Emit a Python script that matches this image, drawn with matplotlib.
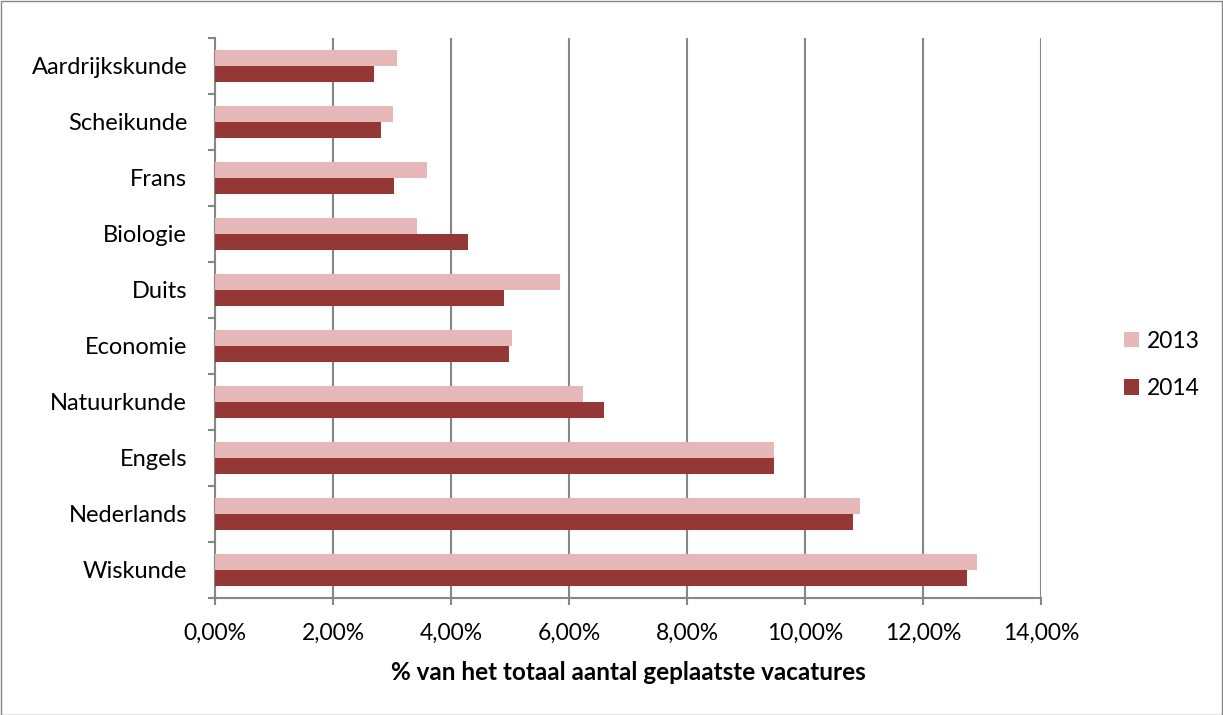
import matplotlib.pyplot as plt
import numpy as np
from matplotlib.ticker import FuncFormatter, FixedLocator
from matplotlib.patches import Rectangle

plt.rcParams['font.family'] = ['Lato', 'DejaVu Sans']

# categories from bottom to top
vakken = ['Wiskunde', 'Nederlands', 'Engels', 'Natuurkunde', 'Economie',
          'Duits', 'Biologie', 'Frans', 'Scheikunde', 'Aardrijkskunde']
pct_2013 = [12.92, 10.93, 9.48, 6.24, 5.04, 5.84, 3.42, 3.60, 3.01, 3.08]
pct_2014 = [12.74, 10.82, 9.47, 6.60, 4.99, 4.90, 4.29, 3.04, 2.82, 2.70]

c2013 = '#E6B9B8'
c2014 = '#953735'
grijs = '#868686'

fig = plt.figure(figsize=(12.23, 7.15), dpi=100)
ax = fig.add_axes([215 / 1223, 1 - 598 / 715, (1041 - 215) / 1223, (598 - 38) / 715])

y = np.arange(len(vakken))
h = 0.285
ax.barh(y + h / 2, pct_2013, height=h, color=c2013, label='2013', zorder=3)
ax.barh(y - h / 2, pct_2014, height=h, color=c2014, label='2014', zorder=3)

ax.set_xlim(0, 14)
ax.set_ylim(-0.5, len(vakken) - 0.5)
ax.set_xticks(np.arange(0, 15, 2))
ax.xaxis.set_major_formatter(FuncFormatter(lambda v, p: f'{v:.2f}%'.replace('.', ',')))
ax.grid(axis='x', color=grijs, linewidth=1.5, zorder=0)

ax.set_yticks(y)
ax.set_yticklabels(vakken)
ax.yaxis.set_minor_locator(FixedLocator(np.arange(-0.5, len(vakken), 1)))
ax.tick_params(axis='y', which='major', length=0, pad=20, labelsize=17)
ax.tick_params(axis='y', which='minor', length=5, width=1.5, color=grijs)
ax.tick_params(axis='x', length=5, width=1.5, color=grijs, labelsize=16.5, pad=13)

for s in ['top', 'right']:
    ax.spines[s].set_visible(False)
for s in ['left', 'bottom']:
    ax.spines[s].set_color(grijs)
    ax.spines[s].set_linewidth(1.5)

ax.set_xlabel('% van het totaal aantal geplaatste vacatures', fontsize=17.5,
              fontweight='bold', labelpad=12)

ax.legend(loc='center left', bbox_to_anchor=(1124 / 1223, 1 - 365 / 715),
          bbox_transform=fig.transFigure, frameon=False, borderpad=0,
          borderaxespad=0, fontsize=16.5, handlelength=0.65, handleheight=0.65,
          handletextpad=0.35, labelspacing=1.15)

fig.patches.append(Rectangle((0.5 / 1223, 0.5 / 715), 1 - 1.5 / 1223, 1 - 1.5 / 715,
                             transform=fig.transFigure, fill=False,
                             edgecolor=grijs, linewidth=1))

plt.savefig('out.png', dpi=100)
